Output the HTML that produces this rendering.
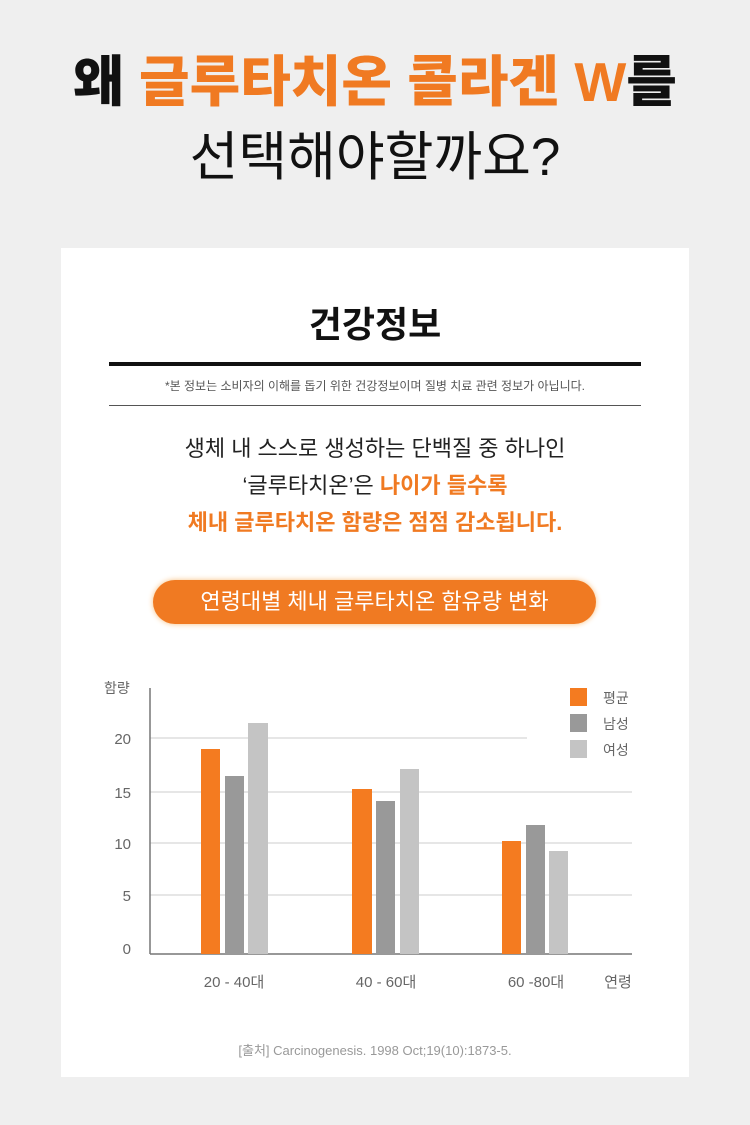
<!DOCTYPE html>
<html><head><meta charset="utf-8"><style>
body{margin:0;width:750px;height:1125px;background:#efefef;font-family:"Liberation Sans","Noto Sans CJK KR",sans-serif;position:relative;overflow:hidden}
.a{position:absolute;white-space:nowrap}
.o{color:#f07a22}
</style></head><body>
<div class="a" style="left:0;width:750px;top:46px;text-align:center;font-size:55px;font-weight:900;color:#111;line-height:72px">왜 <span class="o">글루타치온 콜라겐 W</span>를</div>
<div class="a" style="left:0;width:750px;top:122px;text-align:center;font-size:53px;color:#111;line-height:72px">선택해야할까요?</div>
<div class="a" style="left:61px;top:248px;width:628px;height:829px;background:#fff"></div>
<div class="a" style="left:0;width:750px;top:296px;text-align:center;font-size:36px;font-weight:700;color:#111">건강정보</div>
<div class="a" style="left:109px;top:362px;width:532px;height:4px;background:#111"></div>
<div class="a" style="left:0;width:750px;top:377px;text-align:center;font-size:12px;color:#555">*본 정보는 소비자의 이해를 돕기 위한 건강정보이며 질병 치료 관련 정보가 아닙니다.</div>
<div class="a" style="left:109px;top:405px;width:532px;height:1px;background:#555"></div>
<div class="a" style="left:0;width:750px;top:430px;text-align:center;font-size:22px;color:#222;line-height:37px">생체 내 스스로 생성하는 단백질 중 하나인<br>‘글루타치온’은 <b class="o">나이가 들수록</b><br><b class="o">체내 글루타치온 함량은 점점 감소됩니다.</b></div>
<div class="a" style="left:153px;top:580px;width:443px;height:44px;border-radius:22px;background:#f07a22;box-shadow:0 0 6px #f8c080;color:#fff;font-size:22px;text-align:center;line-height:44px">연령대별 체내 글루타치온 함유량 변화</div>
<svg class="a" style="left:0;top:0" width="750" height="1125" font-family="Liberation Sans,Noto Sans CJK KR,sans-serif">
<g stroke="#ddd" stroke-width="1.5"><line x1="150" y1="738" x2="527" y2="738"/><line x1="150" y1="792" x2="632" y2="792"/><line x1="150" y1="843" x2="632" y2="843"/><line x1="150" y1="895" x2="632" y2="895"/></g>
<line x1="150" y1="688" x2="150" y2="954" stroke="#777" stroke-width="1.5"/>
<line x1="150" y1="954" x2="632" y2="954" stroke="#777" stroke-width="1.5"/>
<g font-size="15" fill="#666" text-anchor="end"><text x="131" y="744">20</text><text x="131" y="798">15</text><text x="131" y="849">10</text><text x="131" y="901">5</text><text x="131" y="954">0</text></g>
<text x="104" y="693" font-size="14" fill="#666">함량</text>
<g fill="#f47b20"><rect x="201" y="749" width="19" height="205"/><rect x="352" y="789" width="20" height="165"/><rect x="502" y="841" width="19" height="113"/></g>
<g fill="#999"><rect x="225" y="776" width="19" height="178"/><rect x="376" y="801" width="19" height="153"/><rect x="526" y="825" width="19" height="129"/></g>
<g fill="#c4c4c4"><rect x="248" y="723" width="20" height="231"/><rect x="400" y="769" width="19" height="185"/><rect x="549" y="851" width="19" height="103"/></g>
<rect x="570" y="688" width="17" height="18" fill="#f47b20"/><rect x="570" y="714" width="17" height="18" fill="#999"/><rect x="570" y="740" width="17" height="18" fill="#c4c4c4"/>
<g font-size="14" fill="#666"><text x="603" y="703">평균</text><text x="603" y="729">남성</text><text x="603" y="755">여성</text></g>
<g font-size="15" fill="#666" text-anchor="middle"><text x="234" y="987">20 - 40대</text><text x="386" y="987">40 - 60대</text><text x="536" y="987">60 -80대</text><text x="618" y="987">연령</text></g>
<text x="375" y="1055" font-size="13" fill="#999" text-anchor="middle">[출처] Carcinogenesis. 1998 Oct;19(10):1873-5.</text>
</svg>
</body></html>
